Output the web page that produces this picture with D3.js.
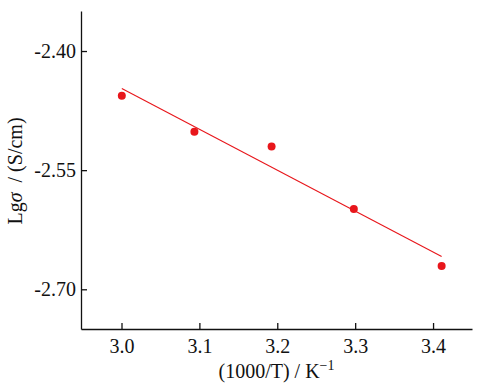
<!DOCTYPE html>
<html>
<head>
<meta charset="utf-8">
<script src="https://cdn.jsdelivr.net/npm/d3@7"></script>
<style>
  html, body { margin: 0; padding: 0; background: #fff; }
  svg { display: block; }
  text { font-family: "Liberation Serif", "Times New Roman", serif; fill: #111; }
</style>
</head>
<body>
<svg id="chart" width="491" height="387"></svg>
<script>
// values
const invT = [3.0004, 3.0936, 3.1927, 3.2983, 3.411]
const lgSigma = [-2.4563, -2.5017, -2.5201, -2.5988, -2.6706]
const xTicks = [3.0, 3.1, 3.2, 3.3, 3.4]
const yTicks = [-2.40, -2.55, -2.70]

const W = 491, H = 387
const m = { left: 81, right: 19, top: 11, bottom: 58 }
const RED = '#e8161b'

const svg = d3.select('#chart')
svg.append('rect').attr('width', W).attr('height', H).attr('fill', '#fff')

const x = d3.scaleLinear().domain([2.948, 3.45]).range([m.left, W - m.right])
const y = d3.scaleLinear().domain([-2.75, -2.3496]).range([H - m.bottom, m.top])

// axes: ticks point inward, no box
const xAxis = svg.append('g').attr('transform', 'translate(0,' + (H - m.bottom) + ')')
    .call(d3.axisBottom(x).tickValues(xTicks).tickSizeInner(-6).tickSizeOuter(0).tickPadding(10).tickFormat(d3.format('.1f')))
const yAxis = svg.append('g').attr('transform', 'translate(' + m.left + ',0)')
    .call(d3.axisLeft(y).tickValues(yTicks).tickSizeInner(-6).tickSizeOuter(0).tickPadding(5).tickFormat(d3.format('.2f')))

;[xAxis, yAxis].forEach(function (a) {
    a.attr('font-family', null).attr('font-size', null)
    a.select('.domain').attr('stroke', '#111').attr('stroke-width', 1.3)
    a.selectAll('.tick line').attr('stroke', '#111').attr('stroke-width', 1.3)
    a.selectAll('.tick text').attr('font-size', '20px').attr('fill', '#111')
})
yAxis.selectAll('.tick text').text(function (d) { return d3.format('.2f')(d).replace('−', '-') })

// least squares fit line through the points
const mx = d3.mean(invT), my = d3.mean(lgSigma)
const sxy = d3.sum(invT, function (v, i) { return (v - mx) * (lgSigma[i] - my) })
const sxx = d3.sum(invT, function (v) { return (v - mx) * (v - mx) })
const slope = sxy / sxx, icpt = my - slope * mx
const x0 = d3.min(invT), x1 = d3.max(invT)

svg.append('line')
    .attr('x1', x(x0)).attr('y1', y(icpt + slope * x0))
    .attr('x2', x(x1)).attr('y2', y(icpt + slope * x1))
    .attr('stroke', RED).attr('stroke-width', 1.1)

svg.append('g').selectAll('circle').data(invT).join('circle')
    .attr('cx', function (d) { return x(d) })
    .attr('cy', function (d, i) { return y(lgSigma[i]) })
    .attr('r', 4).attr('fill', RED)

// axis titles
const xl = svg.append('text').attr('x', (m.left + W - m.right) / 2).attr('y', 378)
    .attr('text-anchor', 'middle').attr('font-size', '20px')
xl.append('tspan').text('(1000/T) / K')
xl.append('tspan').attr('dy', -8).attr('font-size', '14px').text('−1')

const yl = svg.append('text').attr('transform', 'translate(22,171) rotate(-90)')
    .attr('text-anchor', 'middle').attr('font-size', '20px')
yl.append('tspan').text('Lg')
yl.append('tspan').attr('font-style', 'italic').text('σ')
yl.append('tspan').attr('xml:space', 'preserve').text('  / (S/cm)')
</script>
</body>
</html>
